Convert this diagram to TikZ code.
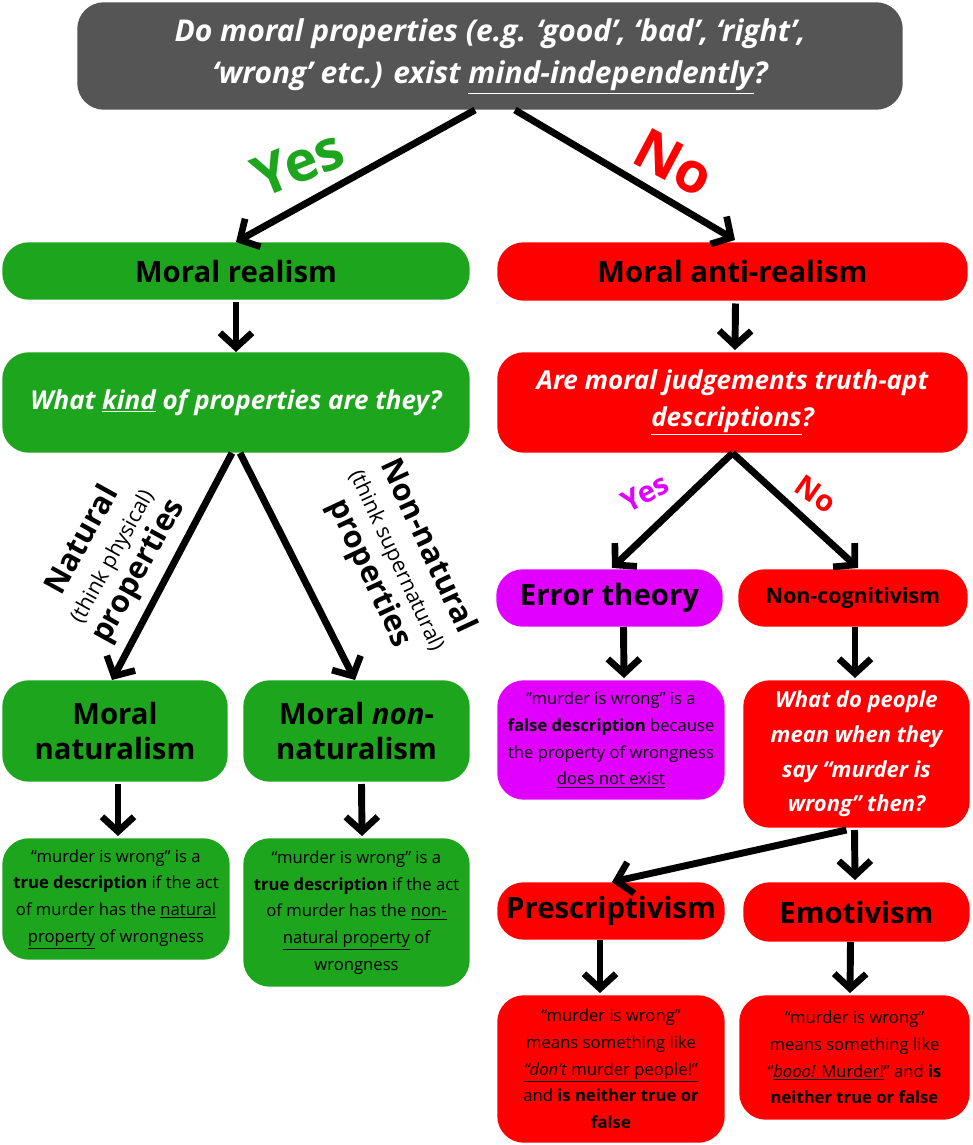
\documentclass[tikz,border=0pt]{standalone}
\usepackage{fontspec}
\setmainfont{Open Sans}
\usetikzlibrary{arrows.meta}
\definecolor{gr}{RGB}{30,165,30}
\definecolor{rd}{RGB}{255,0,0}
\definecolor{mg}{RGB}{225,0,255}
\definecolor{dg}{RGB}{85,85,85}
\newcommand{\bx}[6]{\node[box,fill=#5,minimum width=#3*0.75pt-0.4pt,minimum height=#4*0.75pt-0.4pt] (#6) at ({(#1+#3/2)},{(#2+#4/2)}) {};}
\begin{document}
\begin{tikzpicture}[x=0.75pt,y=-0.75pt,
 box/.style={rounded corners=20pt,inner sep=0pt},
 arr/.style={line width=5.2pt,-{Straight Barb[length=11pt,width=24pt,line width=5pt]}},
 hd/.style={font=\fontsize{22}{24}\selectfont\bfseries,align=center},
 q/.style={font=\fontsize{19.5}{28}\selectfont\bfseries\itshape,white,align=center},
 sm/.style={font=\fontsize{12.5}{20}\selectfont,align=center}]
\useasboundingbox (0,0) rectangle (972,1145);
\bx{77}{2}{826}{108}{dg}{t}
\bx{2}{242}{468}{58}{gr}{mr}
\bx{497}{242}{471}{59}{rd}{ar}
\bx{2}{352}{468}{101}{gr}{wk}
\bx{497}{352}{471}{101}{rd}{aj}
\bx{496}{569}{227}{58}{mg}{et}
\bx{738}{569}{230}{58}{rd}{nc}
\bx{2}{680}{226}{102}{gr}{mn}
\bx{243}{680}{227}{102}{gr}{mnn}
\bx{497}{680}{228}{120}{mg}{ed}
\bx{743}{680}{227}{148}{rd}{wd}
\bx{2}{838}{228}{122}{gr}{ld}
\bx{243}{838}{227}{149}{gr}{rdd}
\bx{497}{882}{228}{58}{rd}{pr}
\bx{743}{882}{227}{60}{rd}{em}
\bx{497}{995}{228}{148}{rd}{pd}
\bx{739}{995}{231}{125}{rd}{edd}
\node[q,font=\fontsize{22.5}{32}\selectfont\bfseries\itshape] at (t) {Do moral properties (e.g. ‘good’, ‘bad’, ‘right’,\\‘wrong’ etc.) exist \underline{mind-independently}?};
\node[hd] at (mr) {Moral realism};
\node[hd] at (ar) {Moral anti-realism};
\node[q] at (wk) {What \underline{kind} of properties are they?};
\node[q] at (aj) {Are moral judgements truth-apt\\\underline{descriptions}?};
\node[hd] at (et) {Error theory};
\node[hd,font=\fontsize{16}{20}\selectfont\bfseries] at (nc) {Non-cognitivism};
\node[hd,font=\fontsize{22}{26}\selectfont\bfseries] at (mn) {Moral\\naturalism};
\node[hd,font=\fontsize{22}{26}\selectfont\bfseries] at (mnn) {Moral \textit{non}-\\naturalism};
\node[sm] at (ed) {“murder is wrong” is a\\\textbf{false description} because\\the property of wrongness\\\underline{does not exist}};
\node[q,font=\fontsize{16.5}{26}\selectfont\bfseries\itshape] at (wd) {What do people\\mean when they\\say “murder is\\wrong” then?};
\node[sm] at (ld) {“murder is wrong” is a\\\textbf{true description} if the act\\of murder has the \underline{natural}\\\underline{property} of wrongness};
\node[sm] at (rdd) {“murder is wrong” is a\\\textbf{true description} if the act\\of murder has the \underline{non-}\\\underline{natural property} of\\wrongness};
\node[hd] at (pr) {Prescriptivism};
\node[hd] at (em) {Emotivism};
\node[sm] at (pd) {“murder is wrong”\\means something like\\\underline{\textit{“don’t} murder people!”}\\and \textbf{is neither true or}\\\textbf{false}};
\node[sm] at (edd) {“murder is wrong”\\means something like\\“\underline{\textit{booo!} Murder!}” and \textbf{is}\\\textbf{neither true or false}};
% arrows
\draw[arr] (t.south)++(-15,0) -- (mr.north);
\draw[arr] (t.south)++(25,0) -- (735,240);
\draw[arr] (mr) ++(0,31) -- (wk.north -| mr);
\draw[arr] (ar) ++(3,32) -- (735,350);
\draw[arr] (wk.south) ++(-4,0) -- (112,680);
\draw[arr] (wk.south) ++(4,0) -- (355,680);
\draw[arr] (aj.south) -- (612,568);
\draw[arr] (aj.south) -- (858,568);
\draw[arr] (et.south) ++(14,0) -- (624,678);
\draw[arr] (nc.south) ++(2,0) -- (855,678);
\draw[arr] (mn.south) ++(3,2) -- (118,836);
\draw[arr] (mnn.south) ++(5,2) -- (362,836);
\draw[arr] (wd.south) ++(-10,2) -- (612,882);
\draw[arr] (wd.south) ++(-2,2) -- (855,880);
\draw[arr] (pr.south) ++(-11,0) -- (600,993);
\draw[arr] (em.south) ++(-6,0) -- (850,993);
% labels
\node[gr,rotate=22,font=\fontsize{42}{42}\selectfont\bfseries] (ly) at (298,163) {Yes};
\node[rd,rotate=-28,font=\fontsize{42}{42}\selectfont\bfseries] (ln) at (674,163) {No};
\node[mg,rotate=28,font=\fontsize{22}{22}\selectfont\bfseries] (ly2) at (645,493) {Yes};
\node[rd,rotate=-35,font=\fontsize{22}{22}\selectfont\bfseries] (ln2) at (816,494) {No};
\node[rotate=61,align=center,font=\fontsize{23}{24}\selectfont\bfseries] (nl) at (111,556) {Natural\\{\fontsize{16}{16}\selectfont\mdseries(think physical)}\\properties};
\node[rotate=-65,align=center,font=\fontsize{23}{24}\selectfont\bfseries] (nnl) at (398,560) {Non-natural\\{\fontsize{16}{16}\selectfont\mdseries(think supernatural)}\\properties};
\end{tikzpicture}
\end{document}
